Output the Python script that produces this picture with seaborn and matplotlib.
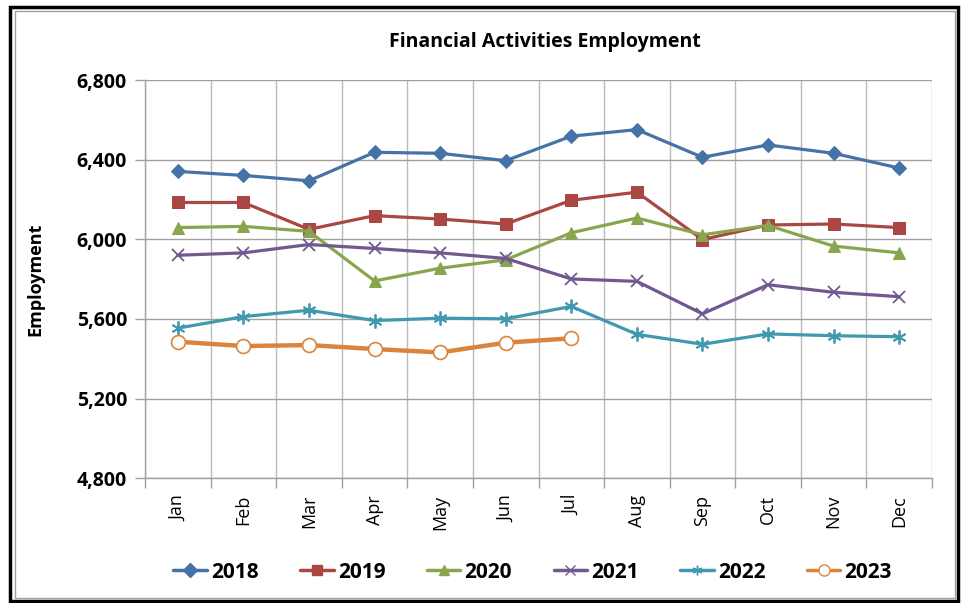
import numpy as np
import pandas as pd
import matplotlib
matplotlib.use("Agg")
import matplotlib.pyplot as plt
import seaborn as sns
from matplotlib.patches import Rectangle
from matplotlib.lines import Line2D

months = ["Jan", "Feb", "Mar", "Apr", "May", "Jun", "Jul", "Aug", "Sep", "Oct", "Nov", "Dec"]
years = ["2018", "2019", "2020", "2021", "2022", "2023"]
v2018 = [6341, 6321, 6294, 6437, 6432, 6395, 6518, 6551, 6412, 6474, 6432, 6358]
v2019 = [6185, 6185, 6050, 6119, 6102, 6077, 6196, 6237, 5999, 6072, 6077, 6059]
v2020 = [6059, 6065, 6040, 5791, 5855, 5897, 6033, 6107, 6023, 6070, 5966, 5932]
v2021 = [5920, 5932, 5974, 5954, 5932, 5904, 5801, 5789, 5626, 5772, 5734, 5712]
v2022 = [5554, 5612, 5644, 5592, 5604, 5601, 5663, 5523, 5473, 5525, 5516, 5511]
v2023 = [5486, 5464, 5469, 5449, 5432, 5481, 5503]
yticks = [4800, 5200, 5600, 6000, 6400, 6800]

series = [v2018, v2019, v2020, v2021, v2022, v2023]
rows = []
for y, vals in zip(years, series):
    for i, v in enumerate(vals):
        rows.append({"Year": y, "pos": i, "Employment": v})
df = pd.DataFrame(rows)

sns.set_style("white")
plt.rcParams["font.family"] = ["Open Sans", "DejaVu Sans"]
plt.rcParams.update({"text.color": "black", "axes.labelcolor": "black",
                     "xtick.color": "black", "ytick.color": "black"})

colors = {"2018": "#4572A7", "2019": "#AA4643", "2020": "#89A54E",
          "2021": "#71588F", "2022": "#4198AF", "2023": "#DB843D"}
markers = {"2018": "D", "2019": "s", "2020": "^", "2021": "x",
           "2022": (6, 2, 0), "2023": "o"}
msizes = {"2018": 7, "2019": 8, "2020": 8, "2021": 9, "2022": 10, "2023": 10}

fig = plt.figure(figsize=(9.65, 6.03), dpi=100)
ax = fig.add_axes([0.1503, 0.2068, 0.8155, 0.6605])

for y in years:
    sub = df[df["Year"] == y]
    kw = dict(marker=markers[y], markersize=msizes[y], color=colors[y],
              linewidth=3.2 if y == "2023" else 2.3)
    if y == "2023":
        kw.update(markerfacecolor="white", markeredgecolor=colors[y], markeredgewidth=1.2)
    elif y in ("2021", "2022"):
        kw.update(markeredgewidth=1.3, markeredgecolor=colors[y])
    else:
        kw.update(markeredgecolor=colors[y], markerfacecolor=colors[y])
    sns.lineplot(data=sub, x="pos", y="Employment", ax=ax, legend=False, **kw)

ax.set_xlim(-0.5, 11.5)
ax.set_ylim(4800, 6800)
ax.set_yticks(yticks)
ax.set_yticklabels([f"{t:,}" for t in yticks], fontweight="bold", fontsize=14)
ax.set_xticks(range(12))
ax.set_xticklabels(months, rotation=90, fontsize=13)
ax.set_xticks(np.arange(-0.5, 12, 1), minor=True)
ax.tick_params(axis="x", which="major", length=0, pad=12)
ax.tick_params(axis="x", which="minor", length=7, color="#A0A0A0", width=1, bottom=True)
ax.tick_params(axis="y", length=7, color="#A0A0A0", width=1, pad=6, left=True)
ax.grid(True, axis="y", which="major", color="#A0A0A0", linewidth=1)
ax.grid(True, axis="x", which="minor", color="#BBBBBB", linewidth=1)
ax.grid(False, axis="x", which="major")
for s in ["top", "right"]:
    ax.spines[s].set_visible(False)
for s in ["left", "bottom"]:
    ax.spines[s].set_color("#A0A0A0")
    ax.spines[s].set_linewidth(1)
ax.set_xlabel("")
ax.set_ylabel("Employment", fontweight="bold", fontsize=13)
ax.yaxis.set_label_coords(-0.128, 0.5)

fig.text(0.565, 0.930, "Financial Activities Employment", ha="center", va="center",
         fontweight="bold", fontsize=14)

handles = []
for y in years:
    h = Line2D([0], [0], color=colors[y], linewidth=2.5, marker=markers[y],
               markersize=7 if y != "2023" else 8,
               markerfacecolor="white" if y == "2023" else colors[y],
               markeredgecolor=colors[y])
    handles.append(h)
leg = fig.legend(handles, years, loc="center", bbox_to_anchor=(0.552, 0.051), ncol=6,
                 frameon=False, handlelength=1.6, columnspacing=2.0, handletextpad=0.2,
                 prop={"family": ["Open Sans", "DejaVu Sans"],
                       "weight": "bold", "size": 15})

fig.patches.append(Rectangle((0.0105, 0.0035), 0.982, 0.9855, transform=fig.transFigure,
                             fill=False, edgecolor="black", linewidth=2.5))
fig.patches.append(Rectangle((0.0155, 0.0085), 0.974, 0.9735, transform=fig.transFigure,
                             fill=False, edgecolor="#A0A0A0", linewidth=1))

fig.savefig("out.png", dpi=100)
